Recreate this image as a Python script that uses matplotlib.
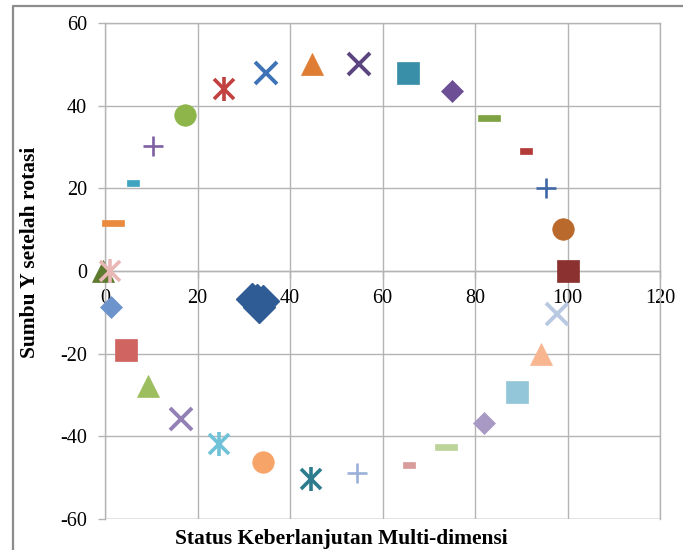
import matplotlib
matplotlib.use("Agg")
import matplotlib.pyplot as plt
from matplotlib.lines import Line2D
from matplotlib.path import Path

plt.rcParams["font.family"] = ["Liberation Serif", "DejaVu Serif"]
plt.rcParams["axes.unicode_minus"] = False

# ordinasi atribut (titik-titik keliling)
attr_x = [1.7, 6.1, 10.4, 17.3, 25.7, 34.8, 44.8, 54.9, 65.5, 75.0, 83.0, 91.0,
          95.4, 99.0, 100.1, 97.7, 94.3, 89.1, 81.9, 73.7, 65.7, 54.5, 44.5,
          34.2, 24.6, 16.4, 9.3, 4.5, 1.3]
attr_y = [11.5, 21.2, 30.2, 37.7, 44.0, 47.8, 50.0, 50.2, 47.8, 43.5, 36.9, 29.0,
          20.0, 10.1, 0.0, -10.5, -20.0, -29.3, -36.8, -42.7, -47.0, -48.9, -50.4,
          -46.3, -41.9, -35.9, -27.9, -19.2, -8.6]
attr_marker = ["dashL", "dashS", "+", "o", "ast", "x", "^", "x", "s", "D", "dashL", "dashS",
               "+", "o", "s", "x", "^", "s", "D", "dashL", "dashS", "+", "ast",
               "o", "ast", "x", "^", "s", "D"]
attr_color = ["#E98A3F", "#3EA4BF", "#7D5FA4", "#8DB54A", "#C0413F", "#3F73B8",
              "#DE7D33", "#5C4480", "#3A8FA8", "#6C4F94", "#7FA343", "#B23B3A",
              "#3F67A6", "#B8692B", "#8B3230", "#B9C9E2", "#F8B690", "#93C6D8",
              "#A898C4", "#BCD49A", "#D89C9B", "#9BB0D6", "#2C7C8E", "#F7A469",
              "#6FC2D8", "#9381B5", "#9DBE5F", "#D06460", "#6C93CC"]

# titik acuan buruk di origin
bad_x = [-0.5, 1.1]
bad_y = [0.0, 0.0]

# status keberlanjutan
status_x = [31.8, 32.8, 34.2, 33.4, 33.0]
status_y = [-6.8, -7.0, -7.2, -8.6, -7.6]

xticks = [0, 20, 40, 60, 80, 100, 120]
yticks = [-60, -40, -20, 0, 20, 40, 60]

dash_long = Path([(-1, -0.3), (1, -0.3), (1, 0.3), (-1, 0.3), (-1, -0.3)],
                 [Path.MOVETO, Path.LINETO, Path.LINETO, Path.LINETO, Path.CLOSEPOLY])
dash_short = Path([(-1, -0.5), (1, -0.5), (1, 0.5), (-1, 0.5), (-1, -0.5)],
                  [Path.MOVETO, Path.LINETO, Path.LINETO, Path.LINETO, Path.CLOSEPOLY])

fig = plt.figure(figsize=(6.83, 5.5), dpi=100)
ax = fig.add_axes([105 / 683, 1 - 519 / 550, 555 / 683, 496 / 550])

grid_c = "#B4B4B4"


def draw_point(x, y, m, c, z=3):
    kw = dict(ls="none", zorder=z, clip_on=False)
    if m == "dashL":
        ax.plot(x, y, marker=dash_long, ms=16, color=c, mec=c, mew=0.5, **kw)
    elif m == "dashS":
        ax.plot(x, y, marker=dash_short, ms=9, color=c, mec=c, mew=0.5, **kw)
    elif m == "+":
        ax.plot(x, y, marker="+", ms=15, color=c, mew=1.9, **kw)
    elif m == "x":
        ax.plot(x, y, marker="x", ms=15.5, color=c, mew=2.8, **kw)
    elif m == "ast":
        ax.plot(x, y, marker="x", ms=15, color=c, mew=2.6, **kw)
        ax.plot(x, y, marker="|", ms=17, color=c, mew=2.6, **kw)
    elif m == "o":
        ax.plot(x, y, marker="o", ms=15.5, color=c, mec=c, mew=0.5, **kw)
    elif m == "s":
        ax.plot(x, y, marker="s", ms=15.5, color=c, mec=c, mew=0.5, **kw)
    elif m == "^":
        ax.plot(x, y, marker="^", ms=16.5, color=c, mec=c, mew=0.5, **kw)
    elif m == "D":
        ax.plot(x, y, marker="D", ms=11.5, color=c, mec=c, mew=0.5, **kw)


for x, y, m, c in zip(attr_x, attr_y, attr_marker, attr_color):
    draw_point(x, y, m, c)

# acuan buruk: segitiga hijau tua + asterisk merah muda
draw_point(bad_x[0], bad_y[0], "^", "#5E7A2E")
draw_point(bad_x[1], bad_y[1], "ast", "#E9B8B6", z=4)

ax.plot(status_x, status_y, marker="D", ms=16, color="#2F5C94", mec="#2F5C94",
        ls="none", zorder=5)

ax.set_xlim(0, 120)
ax.set_ylim(-60, 60)
ax.set_xticks(xticks)
ax.set_yticks(yticks)
ax.grid(True, color=grid_c, lw=1.0, zorder=0)
ax.set_axisbelow(True)

for side in ["top", "right", "left"]:
    ax.spines[side].set_color(grid_c)
    ax.spines[side].set_linewidth(1.0)
ax.spines["bottom"].set_position(("data", 0))
ax.spines["bottom"].set_color(grid_c)
ax.spines["bottom"].set_linewidth(1.0)
# garis bawah area plot
ax.axhline(-60, color=grid_c, lw=1.0, zorder=0)

ax.tick_params(axis="y", direction="out", length=5, width=1, color=grid_c, pad=8,
               labelsize=14.5, labelcolor="black")
ax.tick_params(axis="x", direction="out", length=5, width=1, color=grid_c, pad=8,
               labelsize=14.5, labelcolor="black")

fig.text(30 / 683, 1 - 252 / 550, "Sumbu Y setelah rotasi", rotation=90,
         ha="center", va="center", fontsize=15.5, fontweight="bold")
fig.text(341 / 683, 1 - 549 / 550, "Status Keberlanjutan Multi-dimensi",
         ha="center", va="bottom", fontsize=15.5, fontweight="bold")

# bingkai area chart
fig.add_artist(Line2D([13 / 683, 13 / 683, 1.01], [-0.01, 1 - 6 / 550, 1 - 6 / 550],
                      transform=fig.transFigure, color="#8C8C8C", lw=1.6))

fig.savefig("out.png", dpi=100)
